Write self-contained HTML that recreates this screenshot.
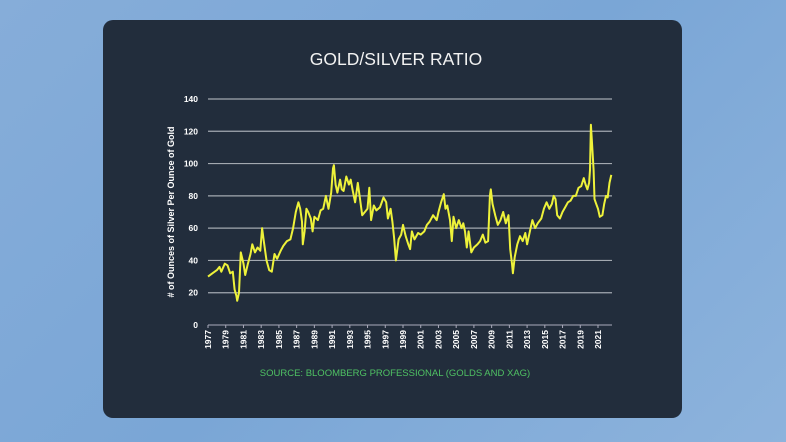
<!DOCTYPE html>
<html><head><meta charset="utf-8"><style>
html,body{margin:0;padding:0}
body{width:786px;height:442px;overflow:hidden;background:linear-gradient(135deg,#86add9,#7aa6d6 50%,#8db3dc);position:relative;font-family:"Liberation Sans",sans-serif}
#card{position:absolute;left:103px;top:20px;width:579px;height:398px;background:#222d3c;border-radius:10px}
svg{position:absolute;left:0;top:0}
</style></head><body>
<div id="card"></div>
<svg id="chart" width="786" height="442">
<text x="396" y="65" text-anchor="middle" fill="#f2f2f2" font-size="17.5">GOLD/SILVER RATIO</text>
<text transform="translate(174,212) rotate(-90)" text-anchor="middle" fill="#fff" font-size="9" font-weight="bold"># of Ounces of Silver Per Ounce of Gold</text>
<text x="395" y="376" text-anchor="middle" fill="#4fc163" font-size="9.5">SOURCE: BLOOMBERG PROFESSIONAL (GOLDS AND XAG)</text>
<g id="grid"></g><g id="xt"></g><path id="line" fill="none" stroke="#eef23a" stroke-width="2" stroke-linejoin="round"/>
</svg>
<script>
const yTicks=[0,20,40,60,80,100,120,140];
const xTickYears=[1977,1979,1981,1983,1985,1987,1989,1991,1993,1995,1997,1999,2001,2003,2005,2007,2009,2011,2013,2015,2017,2019,2021];
const dates=[1977.0,1977.5,1978.0,1978.3,1978.5,1978.9,1979.2,1979.5,1979.8,1980.0,1980.2,1980.3,1980.5,1980.7,1981.0,1981.2,1981.5,1981.8,1982.0,1982.3,1982.6,1982.9,1983.1,1983.3,1983.6,1983.9,1984.2,1984.5,1984.8,1985.2,1985.5,1985.9,1986.3,1986.6,1986.9,1987.2,1987.4,1987.6,1987.7,1987.9,1988.1,1988.3,1988.6,1988.8,1989.0,1989.4,1989.7,1990.0,1990.3,1990.6,1990.9,1991.1,1991.2,1991.4,1991.6,1991.9,1992.1,1992.3,1992.6,1992.9,1993.1,1993.3,1993.6,1993.9,1994.1,1994.4,1994.7,1995.0,1995.2,1995.4,1995.7,1996.0,1996.4,1996.8,1997.1,1997.3,1997.6,1997.8,1998.0,1998.2,1998.5,1998.8,1999.0,1999.3,1999.6,1999.8,2000.0,2000.3,2000.7,2001.0,2001.4,2001.7,2002.0,2002.4,2002.8,2003.0,2003.3,2003.6,2003.8,2004.0,2004.3,2004.5,2004.7,2005.0,2005.3,2005.6,2005.8,2006.0,2006.2,2006.4,2006.7,2007.0,2007.4,2007.7,2008.0,2008.3,2008.6,2008.8,2008.9,2009.1,2009.4,2009.7,2010.0,2010.3,2010.6,2010.9,2011.1,2011.3,2011.4,2011.6,2011.9,2012.2,2012.5,2012.8,2013.0,2013.4,2013.6,2013.9,2014.2,2014.6,2014.9,2015.2,2015.5,2015.8,2016.0,2016.2,2016.4,2016.7,2017.0,2017.3,2017.6,2017.9,2018.2,2018.5,2018.8,2019.1,2019.4,2019.6,2019.8,2020.0,2020.1,2020.2,2020.3,2020.5,2020.6,2020.8,2021.0,2021.2,2021.5,2021.7,2021.9,2022.1,2022.3,2022.5];
const ratios=[30,32,34,36,33,38,37,32,33,22,18,15,20,45,38,31,38,44,50,45,48,46,60,52,40,34,33,44,41,46,49,52,53,60,70,76,72,64,50,58,72,70,66,58,67,65,71,72,80,72,82,97,99,87,82,90,84,83,92,87,90,84,76,88,80,68,70,72,85,65,74,71,73,79,76,66,72,64,54,40,53,56,62,55,50,47,58,53,57,56,58,62,64,68,65,70,76,81,72,74,65,52,67,60,65,60,63,58,48,58,45,48,50,52,56,51,52,80,84,75,68,62,65,70,63,68,47,38,32,42,50,55,52,57,50,60,65,60,63,66,72,76,72,75,80,78,68,66,70,73,76,77,80,80,85,86,91,87,84,88,96,124,115,96,78,75,72,67,68,75,80,79,88,93];
const X0=208,X1=612,Y0=325,Y1=99;
const xs=y=>X0+(y-1977)*(598-X0)/44;
const ys=v=>Y0-(v/140)*(Y0-Y1);
const NS="http://www.w3.org/2000/svg";
const grid=document.getElementById('grid');
yTicks.forEach(t=>{
 if(t>0){const l=document.createElementNS(NS,'line');
 l.setAttribute('x1',X0);l.setAttribute('x2',X1);l.setAttribute('y1',ys(t));l.setAttribute('y2',ys(t));
 l.setAttribute('stroke','#a3a9b0');l.setAttribute('stroke-width','1.2');
 
 
 grid.appendChild(l);}
 const tx=document.createElementNS(NS,'text');
 tx.setAttribute('x',X0-10);tx.setAttribute('y',ys(t)+3);tx.setAttribute('text-anchor','end');
 tx.setAttribute('fill','#fff');tx.setAttribute('font-size','8.5');tx.setAttribute('font-weight','bold');
 tx.textContent=t;
 
 
 grid.appendChild(tx);
});
const ax=document.createElementNS(NS,'line');
ax.setAttribute('x1',X0);ax.setAttribute('x2',X1);ax.setAttribute('y1',Y0);ax.setAttribute('y2',Y0);ax.setAttribute('stroke','#aab');


grid.appendChild(ax);
const xt=document.getElementById('xt');
xTickYears.forEach(yr=>{
 const x=xs(yr);
 const tk=document.createElementNS(NS,'line');
 tk.setAttribute('x1',x);tk.setAttribute('x2',x);tk.setAttribute('y1',Y0);tk.setAttribute('y2',Y0+3);tk.setAttribute('stroke','#aab');
 
 
 xt.appendChild(tk);
 const t=document.createElementNS(NS,'text');
 t.setAttribute('transform','translate('+(x+3)+','+(Y0+5)+') rotate(-90)');
 t.setAttribute('text-anchor','end');t.setAttribute('fill','#fff');t.setAttribute('font-size','8.5');t.setAttribute('font-weight','bold');
 t.textContent=yr;
 
 
 xt.appendChild(t);
});
document.getElementById('line').setAttribute('d',dates.map((d,i)=>(i?'L':'M')+xs(d).toFixed(1)+','+ys(ratios[i]).toFixed(1)).join(''));
</script>
</body></html>
